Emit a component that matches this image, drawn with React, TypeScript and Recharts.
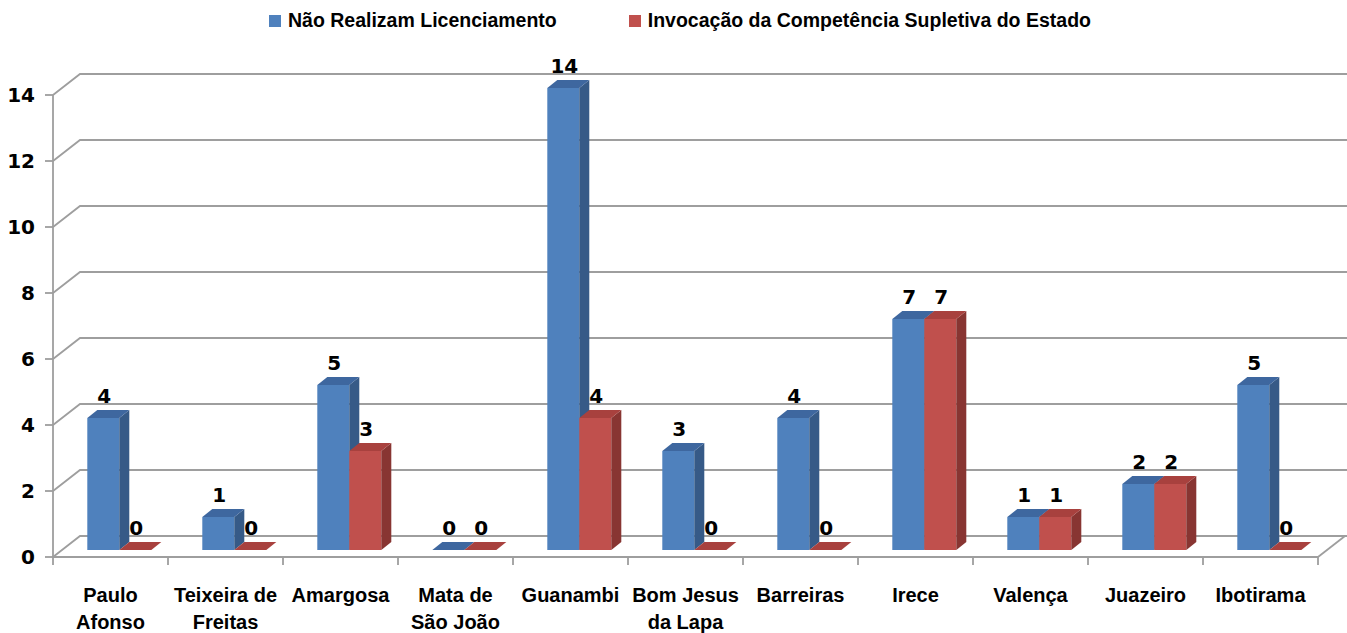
import React from 'react';
import { BarChart, Bar, XAxis, YAxis, CartesianGrid, LabelList } from 'recharts';

const municipios = [
  'Paulo\nAfonso',
  'Teixeira de\nFreitas',
  'Amargosa',
  'Mata de\nSão João',
  'Guanambi',
  'Bom Jesus\nda Lapa',
  'Barreiras',
  'Irece',
  'Valença',
  'Juazeiro',
  'Ibotirama',
];
const naoRealizam = [4, 1, 5, 0, 14, 3, 4, 7, 1, 2, 5];
const supletiva = [0, 0, 3, 0, 4, 0, 0, 7, 1, 2, 0];
const yTicks = [0, 2, 4, 6, 8, 10, 12, 14];
const seriesNames = ['Não Realizam Licenciamento', 'Invocação da Competência Supletiva do Estado'];
const seriesColors = ['#4f81bd', '#c0504d'];

const data = municipios.map((m, i) => ({ municipio: m, nao: naoRealizam[i], sup: supletiva[i] }));

// fake 3d: wall depth and bar depth
const WALL_DX = 27;
const WALL_DY = 21;
const SHIFT_X = 9;
const SHIFT_Y = 7;
const BAR_DX = 10;
const BAR_DY = 8;
const GRID = '#9e9e9e';
const W = 1347;
const H = 633;

const make3dBar = (front: string, side: string, top: string) => (props: any) => {
  const { x, y, width, height } = props;
  const fx = Number(x) + SHIFT_X;
  const fy = Number(y) - SHIFT_Y;
  const w = Number(width);
  const h = Math.max(Number(height) || 0, 0);
  return (
    <g>
      <rect x={fx} y={fy} width={w} height={h} fill={front} />
      <polygon
        points={`${fx + w},${fy} ${fx + w + BAR_DX},${fy - BAR_DY} ${fx + w + BAR_DX},${fy + h - BAR_DY} ${fx + w},${fy + h}`}
        fill={side}
      />
      <polygon
        points={`${fx},${fy} ${fx + BAR_DX},${fy - BAR_DY} ${fx + w + BAR_DX},${fy - BAR_DY} ${fx + w},${fy}`}
        fill={top}
      />
    </g>
  );
};

const renderValue = (props: any) => {
  const { x, y, width, value } = props;
  return (
    <text
      x={Number(x) + SHIFT_X + Number(width) / 2 + 1}
      y={Number(y) - 22}
      textAnchor="middle"
      fontFamily="DejaVu Sans"
      fontWeight="bold"
      fontSize={20}
      fill="#000"
    >
      {value}
    </text>
  );
};

const gridLine = (props: any) => {
  const { x1, y1, index } = props;
  const d = `M${x1},${y1} L${x1 + WALL_DX},${y1 - WALL_DY} L${W},${y1 - WALL_DY}`;
  return <path key={`g-${index}`} d={d} stroke={GRID} strokeWidth={1.8} fill="none" />;
};

const CategoryTick = (props: any) => {
  const { x, y, payload, index } = props;
  const half = (W - 29 - 53) / municipios.length / 2;
  const lines = String(payload.value).split('\n');
  const last = index === municipios.length - 1;
  return (
    <g>
      <line x1={x - half} y1={y} x2={x - half} y2={y + 8} stroke={GRID} strokeWidth={1.8} />
      {last && (
        <>
          <line x1={x + half} y1={y} x2={x + half} y2={y + 8} stroke={GRID} strokeWidth={1.8} />
          <line x1={x + half} y1={y} x2={x + half + WALL_DX} y2={y - WALL_DY} stroke={GRID} strokeWidth={1.8} />
        </>
      )}
      <text
        x={x}
        y={y + 45}
        textAnchor="middle"
        fontFamily="Liberation Sans"
        fontWeight="bold"
        fontSize={20}
        fill="#000"
      >
        {lines.map((l, i) => (
          <tspan key={i} x={x} dy={i === 0 ? 0 : 27}>
            {l}
          </tspan>
        ))}
      </text>
    </g>
  );
};

const ChartLegend = () => (
  <div
    style={{
      position: 'absolute',
      top: 9,
      left: 269,
      display: 'flex',
      alignItems: 'center',
      whiteSpace: 'nowrap',
    }}
  >
    {seriesNames.map((n, i) => (
      <div key={n} style={{ display: 'flex', alignItems: 'center', marginRight: 72 }}>
        <div style={{ width: 12, height: 12, background: seriesColors[i], marginRight: 7 }} />
        <span style={{ fontFamily: 'Liberation Sans', fontWeight: 'bold', fontSize: 19.5, color: '#000' }}>{n}</span>
      </div>
    ))}
  </div>
);

export default function App() {
  return (
    <div style={{ position: 'fixed', top: 0, left: 0, background: '#fff', width: W, height: H }}>
      <ChartLegend />
      <BarChart
        width={W}
        height={H}
        data={data}
        margin={{ top: 95, right: 29, left: 0, bottom: 0 }}
        barCategoryGap="22%"
        barGap={0}
      >
        <CartesianGrid vertical={false} horizontal={gridLine} />
        <XAxis
          dataKey="municipio"
          height={76}
          interval={0}
          tickLine={false}
          tickSize={0}
          tickMargin={0}
          axisLine={{ stroke: GRID, strokeWidth: 1.8 }}
          tick={<CategoryTick />}
        />
        <YAxis
          width={53}
          domain={[0, 14]}
          ticks={yTicks}
          interval={0}
          tickSize={8}
          tickMargin={10}
          axisLine={{ stroke: GRID, strokeWidth: 1.8 }}
          tickLine={{ stroke: GRID, strokeWidth: 1.8 }}
          tick={{ fontFamily: 'DejaVu Sans', fontWeight: 'bold', fontSize: 20, fill: '#000' }}
        />
        <Bar
          dataKey="nao"
          name={seriesNames[0]}
          fill={seriesColors[0]}
          isAnimationActive={false}
          shape={make3dBar(seriesColors[0], '#365a87', '#3e679f')}
        >
          <LabelList dataKey="nao" content={renderValue} />
        </Bar>
        <Bar
          dataKey="sup"
          name={seriesNames[1]}
          fill={seriesColors[1]}
          isAnimationActive={false}
          shape={make3dBar(seriesColors[1], '#883532', '#a8413e')}
        >
          <LabelList dataKey="sup" content={renderValue} />
        </Bar>
      </BarChart>
    </div>
  );
}
